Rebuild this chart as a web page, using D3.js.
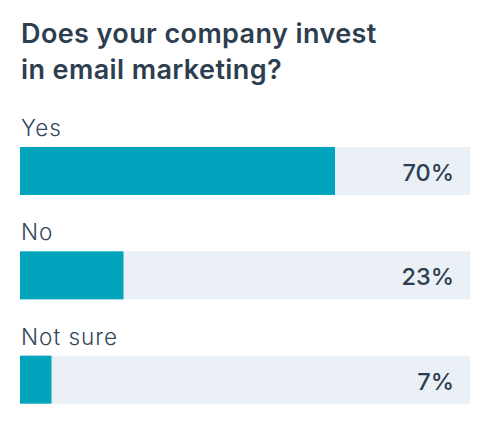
<!DOCTYPE html>
<html><head><meta charset="utf-8">
<script src="https://cdn.jsdelivr.net/npm/d3@7"></script>
<style>html,body{margin:0;padding:0;background:#fff;}</style>
</head><body>
<script>
const titleLines = ["Does your company invest", "in email marketing?"];
const categories = ["Yes", "No", "Not sure"];
const values = [70, 23, 7];

const W = 490, H = 429;
const svg = d3.select("body").append("svg").attr("width", W).attr("height", H)
  .style("font-family", "Inter, 'Open Sans', sans-serif");

svg.selectAll("text.title").data(titleLines).join("text")
  .attr("class", "title")
  .attr("x", 21).attr("y", (d, i) => 43 + i * 36)
  .attr("fill", "#2d3e50").attr("font-size", 27).attr("font-weight", 600)
  .attr("letter-spacing", 0.4)
  .text(d => d);

const x = d3.scaleLinear().domain([0, 100]).range([20, 470]);
const y = d3.scaleBand().domain(categories).range([147, 405 + 55]).paddingInner(0).paddingOuter(0);
const barH = 48;

const g = svg.selectAll("g.row").data(categories).join("g").attr("class", "row");

g.append("rect")
  .attr("x", x(0)).attr("y", d => y(d)).attr("width", x(100) - x(0)).attr("height", barH)
  .attr("fill", "#eaf0f6");

g.append("rect")
  .attr("x", x(0)).attr("y", d => y(d)).attr("width", (d, i) => x(values[i]) - x(0)).attr("height", barH)
  .attr("fill", "#00a4bd");

g.append("text")
  .attr("x", 21).attr("y", d => y(d) - 11)
  .attr("fill", "#33475b").attr("font-size", 22.5).attr("font-weight", 300)
  .attr("letter-spacing", 1)
  .text(d => d);

g.append("text")
  .attr("x", 454).attr("y", d => y(d) + 34)
  .attr("text-anchor", "end")
  .attr("fill", "#2d3e50").attr("font-size", 23.5).attr("font-weight", 500)
  .text((d, i) => values[i] + "%");
</script>
</body></html>
